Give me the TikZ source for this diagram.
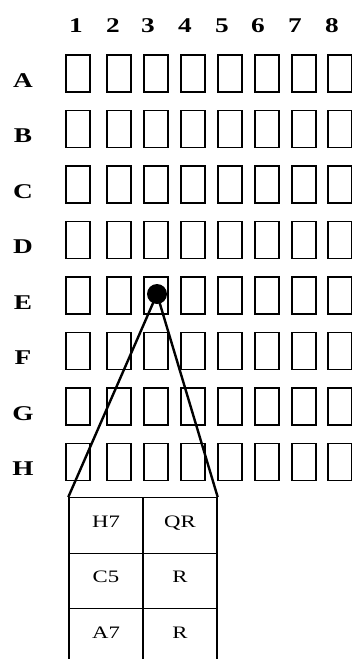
\documentclass[tikz,border=0pt]{standalone}
\usepackage{fontspec}
\setmainfont[FakeStretch=1.3]{Liberation Serif}
\usetikzlibrary{positioning}

\begin{document}
\begin{tikzpicture}[x=1pt,y=-1pt]
  \tikzset{
    well/.style={draw,line width=1.8pt,minimum width=24pt,minimum height=37pt,inner sep=0pt},
    head/.style={font=\fontsize{21}{22}\selectfont\bfseries,inner sep=0pt},
    probe/.style={circle,fill=black,minimum size=20pt,inner sep=0pt},
    ray/.style={draw,line width=2.4pt},
    entry/.style={draw,line width=1.4pt,minimum width=74pt,minimum height=55.5pt,inner sep=0pt,
      font=\fontsize{17.5}{19}\selectfont,text height=12pt,text depth=9pt}
  }
  \useasboundingbox (0,0) rectangle (352,659);
  \foreach \x [count=\j] in {76,113,148,185,222,258,295,332}
    \node[head] (col\j) at (\x,25.5) {\j};
  \foreach \r [count=\i] in {A,B,C,D,E,F,G,H} {
    \node[head] (row\r) at (23,80.5+55.5*\i-55.5) {\r};
    \foreach \x [count=\j] in {78,119,156,193,230,267,304,340}
      \node[well] (cell-\r\j) at (\x,73.5+55.5*\i-55.5) {};
  }
  \node[probe] (dot) at ([xshift=1pt,yshift=1.5pt]cell-E3.center) {};
  \node[entry] (tab-11) at (106,525.5) {H7};
  \node[entry] (tab-12) at (180,525.5) {QR};
  \node[entry] (tab-21) at (106,581) {C5};
  \node[entry] (tab-22) at (180,581) {R};
  \node[entry] (tab-31) at (106,636.5) {A7};
  \node[entry] (tab-32) at (180,636.5) {R};
  \draw[ray] (dot.center) -- (tab-11.north west);
  \draw[ray] (dot.center) -- (tab-12.north east);
\end{tikzpicture}
\end{document}
